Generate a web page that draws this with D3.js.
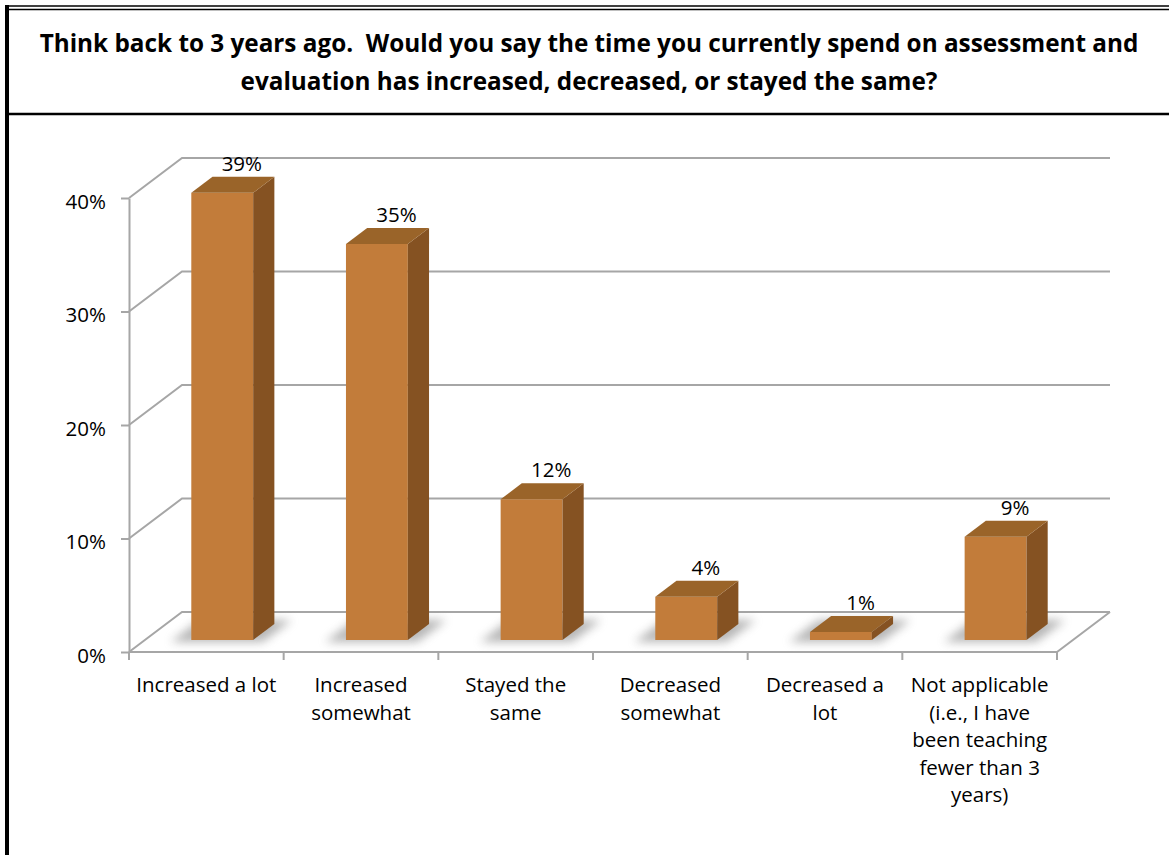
<!DOCTYPE html>
<html>
<head>
<meta charset="utf-8">
<script src="https://cdn.jsdelivr.net/npm/d3@7"></script>
<style>
  html, body { margin: 0; padding: 0; background: #fff; }
  svg { display: block; }
  text { font-family: "Open Sans", "Noto Sans", sans-serif; fill: #000; }
</style>
</head>
<body>
<div id="chart"></div>
<script>
// ---- data ----
const titleLines = [
  "Think back to 3 years ago.  Would you say the time you currently spend on assessment and",
  "evaluation has increased, decreased, or stayed the same?"
];
const categories = [
  "Increased a lot",
  "Increased\nsomewhat",
  "Stayed the\nsame",
  "Decreased\nsomewhat",
  "Decreased a\nlot",
  "Not applicable\n(i.e., I have\nbeen teaching\nfewer than 3\nyears)"
];
const values = [39.4, 34.9, 12.4, 3.8, 0.7, 9.1];
const yTicks = [0, 10, 20, 30, 40];

// ---- layout ----
const W = 1169, H = 855;
const FONT = "'Open Sans', 'Noto Sans', sans-serif";
const LABEL_SIZE = "20.5px";
const svg = d3.select("#chart").append("svg").attr("width", W).attr("height", H);

const defs = svg.append("defs");
defs.append("filter").attr("id", "shadowBlur")
  .attr("x", "-50%").attr("y", "-50%").attr("width", "200%").attr("height", "200%")
  .append("feGaussianBlur").attr("stdDeviation", 5);

// frame
svg.append("rect").attr("x", 5).attr("y", 5).attr("width", 4).attr("height", H - 5).attr("fill", "#000");
svg.append("line").attr("x1", 5).attr("x2", W).attr("y1", 6).attr("y2", 6).attr("stroke", "#000").attr("stroke-width", 1.5);
svg.append("line").attr("x1", 5).attr("x2", W).attr("y1", 9.5).attr("y2", 9.5).attr("stroke", "#000").attr("stroke-width", 1.5);
svg.append("line").attr("x1", 9).attr("x2", W).attr("y1", 114).attr("y2", 114).attr("stroke", "#000").attr("stroke-width", 2.5);

// title
const title = svg.append("text").attr("text-anchor", "middle")
  .style("font-weight", "bold").style("font-size", "24.3px").style("white-space", "pre");
titleLines.forEach((t, i) => {
  title.append("tspan").attr("x", 589).attr("y", 52 + i * 37.5).text(t);
});

// scales
const x0 = 129, x1 = 1057;
const depth = { dx: 53, dy: -40 };
const y = d3.scaleLinear().domain([0, 40]).range([652, 198]);
const x = d3.scaleBand().domain(categories).range([x0, x1]).padding(0);
const P = (px, v, z) => [px + z * depth.dx, y(v) + z * depth.dy];

const gridColor = "#a6a6a6";
const g = svg.append("g");

// back wall gridlines + side wall diagonals
g.selectAll("path.grid").data(yTicks).join("path")
  .attr("class", "grid")
  .attr("fill", "none").attr("stroke", gridColor).attr("stroke-width", 2)
  .attr("d", d => {
    const a = P(x0, d, 0), b = P(x0, d, 1), c = P(x1, d, 1);
    return `M${a[0]},${a[1]}L${b[0]},${b[1]}L${c[0]},${c[1]}`;
  });
// floor right edge and front edge
{
  const a = P(x1, 0, 0), b = P(x1, 0, 1), c = P(x0, 0, 0);
  g.append("path").attr("fill", "none").attr("stroke", gridColor).attr("stroke-width", 2)
    .attr("d", `M${c[0]},${c[1]}L${a[0]},${a[1]}L${b[0]},${b[1]}`);
}
// category ticks at band boundaries
const bounds = categories.map(c => x(c)).concat([x1]);
g.selectAll("line.ctick").data(bounds).join("line")
  .attr("class", "ctick")
  .attr("x1", d => d).attr("x2", d => d)
  .attr("y1", y(0)).attr("y2", y(0) + 8)
  .attr("stroke", gridColor).attr("stroke-width", 2);

// y axis
const yAxis = d3.axisLeft(y).tickValues(yTicks).tickFormat(d => d + "%")
  .tickSize(8).tickSizeOuter(0).tickPadding(15);
const ya = svg.append("g").attr("transform", `translate(${x0},0)`).call(yAxis);
ya.select(".domain").attr("stroke", gridColor).attr("stroke-width", 2);
ya.selectAll(".tick line").attr("stroke", gridColor).attr("stroke-width", 2);
ya.selectAll(".tick text").style("font-size", LABEL_SIZE).style("font-family", FONT)
  .attr("fill", "#000").attr("dy", "0.5em");

// bars
const bw = x.bandwidth() * 0.4;
const z0 = 0.3, z1 = 0.7;
const poly = pts => "M" + pts.map(p => p.join(",")).join("L") + "Z";

const bars = svg.append("g").selectAll("g.bar").data(categories).join("g").attr("class", "bar");
bars.each(function (c, i) {
  const gb = d3.select(this);
  const v = values[i];
  const xl = x(c) + (x.bandwidth() - bw) / 2, xr = xl + bw;
  // shadow
  gb.append("path")
    .attr("d", poly([P(xl - 18, 0, z0 - 0.05), P(xr + 12, 0, z0 - 0.05), P(xr + 12, 0, z1 + 0.1), P(xl - 18, 0, z1 + 0.1)]))
    .attr("fill", "#7a7a7a").attr("opacity", 0.55).attr("filter", "url(#shadowBlur)");
  // front
  gb.append("path").attr("d", poly([P(xl, 0, z0), P(xr, 0, z0), P(xr, v, z0), P(xl, v, z0)])).attr("fill", "#c27c3a");
  // side
  gb.append("path").attr("d", poly([P(xr, 0, z0), P(xr, 0, z1), P(xr, v, z1), P(xr, v, z0)])).attr("fill", "#855222");
  // top
  gb.append("path").attr("d", poly([P(xl, v, z0), P(xr, v, z0), P(xr, v, z1), P(xl, v, z1)])).attr("fill", "#9a6429");
  // label
  const cx = (xl + xr) / 2;
  const top = P(cx, v, 0.5);
  gb.append("text").attr("text-anchor", "middle")
    .attr("x", top[0] + 9).attr("y", P(cx, v, z1)[1] - 6)
    .style("font-size", LABEL_SIZE)
    .text(Math.round(v) + "%");
});

// category labels
const cl = svg.append("g").selectAll("text.cat").data(categories).join("text")
  .attr("class", "cat").attr("text-anchor", "middle").style("font-size", LABEL_SIZE);
cl.each(function (c) {
  const t = d3.select(this);
  c.split("\n").forEach((line, k) => {
    t.append("tspan").attr("x", x(c) + x.bandwidth() / 2).attr("y", 692 + k * 27.6).text(line);
  });
});
</script>
</body>
</html>
